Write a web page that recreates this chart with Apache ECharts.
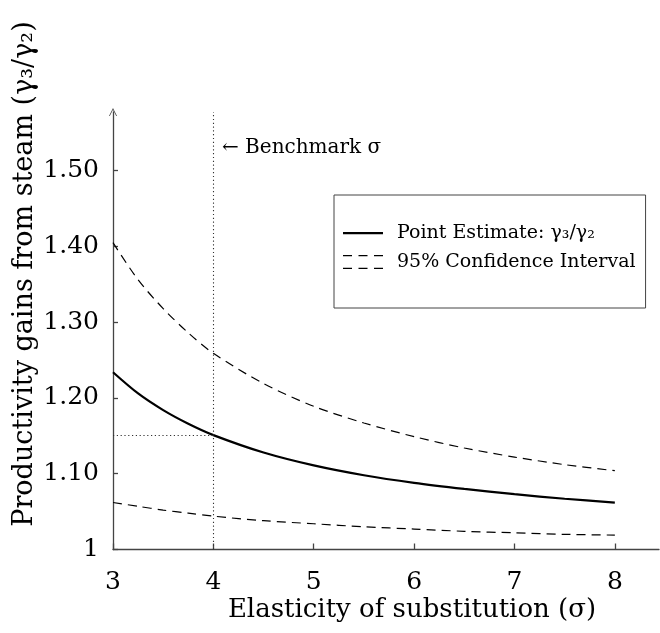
<!DOCTYPE html>
<html>
<head>
<meta charset="utf-8">
<script src="https://cdn.jsdelivr.net/npm/echarts@6/dist/echarts.min.js"></script>
<style>
  html, body { margin: 0; padding: 0; background: #fff; }
  #chart { width: 660px; height: 633px; }
</style>
</head>
<body>
<div id="chart"></div>
<script>
// ---- data ----
var sigma     = [3, 3.25, 3.5, 3.75, 4, 4.5, 5, 5.5, 6, 6.5, 7, 7.5, 8];
var pointEst  = [1.234, 1.206, 1.184, 1.166, 1.151, 1.128, 1.111, 1.098, 1.088, 1.080, 1.073, 1.067, 1.062];
var ciUpper   = [1.405, 1.356, 1.318, 1.286, 1.259, 1.219, 1.189, 1.167, 1.149, 1.134, 1.122, 1.112, 1.104];
var ciLower   = [1.062, 1.057, 1.052, 1.048, 1.044, 1.038, 1.034, 1.030, 1.027, 1.024, 1.022, 1.020, 1.019];
var xTicks    = [3, 4, 5, 6, 7, 8];
var yTicks    = [1, 1.1, 1.2, 1.3, 1.4, 1.5];
var benchmarkSigma = 4;
var seriesNames = ['Point Estimate: γ₃/γ₂', '95% Confidence Interval'];
var xTitle = 'Elasticity of substitution (σ)';
var yTitle = 'Productivity gains from steam (γ₃/γ₂)';
var benchText = '← Benchmark σ';

var xMin = 3, xMax = 8.44, yMin = 1, yMax = 1.5775;
var FONT = 'DejaVu Serif';

function zip(xs, ys) { return xs.map(function (x, i) { return [x, ys[i]]; }); }
var benchY = pointEst[sigma.indexOf(benchmarkSigma)];

var chart = echarts.init(document.getElementById('chart'), null, { renderer: 'canvas' });

var solidIcon = 'path://M0,6h40v2.2h-40z M0,0h0.01v0.01h-0.01z M0,14h0.01v0.01h-0.01z';
var dashIcon = 'path://M0,0h9v1.3h-9z M15.5,0h9v1.3h-9z M31,0h9v1.3h-9z M0,12.7h9v1.3h-9z M15.5,12.7h9v1.3h-9z M31,12.7h9v1.3h-9z';

var option = {
  animation: false,
  backgroundColor: '#fff',
  grid: { left: 113, right: 1, top: 112, bottom: 83.5, containLabel: false, outerBoundsMode: 'none' },
  xAxis: {
    type: 'value', min: xMin, max: xMax,
    axisLine: { show: true, lineStyle: { color: '#444', width: 1.3 } },
    axisTick: { show: true, inside: true, length: 6, customValues: xTicks, lineStyle: { color: '#444', width: 1.3 } },
    axisLabel: { customValues: xTicks, fontSize: 25, fontFamily: FONT, color: '#000', margin: 20 },
    splitLine: { show: false }
  },
  yAxis: {
    type: 'value', min: yMin, max: yMax,
    axisLine: { show: true, symbol: ['none', 'path://M0,10 L5,0 L10,10 L9,10 L5,2.2 L1,10 Z'], symbolSize: [9, 8], symbolOffset: [0, 0], lineStyle: { color: '#444', width: 1.3 } },
    axisTick: { show: true, inside: true, length: 5, customValues: yTicks, lineStyle: { color: '#444', width: 1.3 } },
    axisLabel: {
      customValues: yTicks, fontSize: 25, fontFamily: FONT, color: '#000', margin: 14,
      formatter: function (v) { return Math.abs(v - 1) < 1e-9 ? '1' : v.toFixed(2); }
    },
    splitLine: { show: false }
  },
  legend: {
    orient: 'vertical', left: 334, top: 195,
    padding: [27, 10, 35, 9],
    itemWidth: 40, itemHeight: 14, itemGap: 7,
    selectedMode: false,
    borderColor: '#444', borderWidth: 1, backgroundColor: '#fff',
    itemStyle: { borderWidth: 0 },
    textStyle: { fontSize: 19, fontFamily: FONT, color: '#000', lineHeight: 22, padding: [0, 0, 0, 9] },
    data: [
      { name: seriesNames[0], icon: solidIcon },
      { name: seriesNames[1], icon: dashIcon }
    ]
  },
  graphic: [
    { type: 'text', x: 222, y: 148, style: { text: benchText, fontSize: 20, fontFamily: FONT, fill: '#000', align: 'left', verticalAlign: 'middle' } },
    { type: 'text', x: 412, y: 610, style: { text: xTitle, fontSize: 26, fontFamily: FONT, fill: '#000', align: 'center', verticalAlign: 'middle' } },
    { type: 'text', x: 25, y: 274, rotation: Math.PI / 2, style: { text: yTitle, fontSize: 27, fontFamily: FONT, fill: '#000', align: 'center', verticalAlign: 'middle' } }
  ],
  series: [
    {
      name: seriesNames[0], type: 'line', data: zip(sigma, pointEst),
      symbol: 'none', smooth: 0.3, color: '#000',
      lineStyle: { color: '#000', width: 2.2 },
      z: 3,
      markLine: {
        silent: true, symbol: ['none', 'none'], label: { show: false },
        lineStyle: { color: '#333', width: 1.1, type: [1.2, 2.6] },
        data: [
          [{ coord: [benchmarkSigma, yMin] }, { coord: [benchmarkSigma, yMax] }],
          [{ coord: [sigma[0], benchY] }, { coord: [benchmarkSigma, benchY] }]
        ]
      }
    },
    {
      name: seriesNames[1], type: 'line', data: zip(sigma, ciUpper),
      symbol: 'none', smooth: 0.3, color: '#000',
      lineStyle: { color: '#000', width: 1.2, type: [9, 6] }
    },
    {
      name: seriesNames[1], type: 'line', data: zip(sigma, ciLower),
      symbol: 'none', smooth: 0.3, color: '#000',
      lineStyle: { color: '#000', width: 1.2, type: [9, 6] }
    }
  ]
};
chart.setOption(option);
</script>
</body>
</html>
